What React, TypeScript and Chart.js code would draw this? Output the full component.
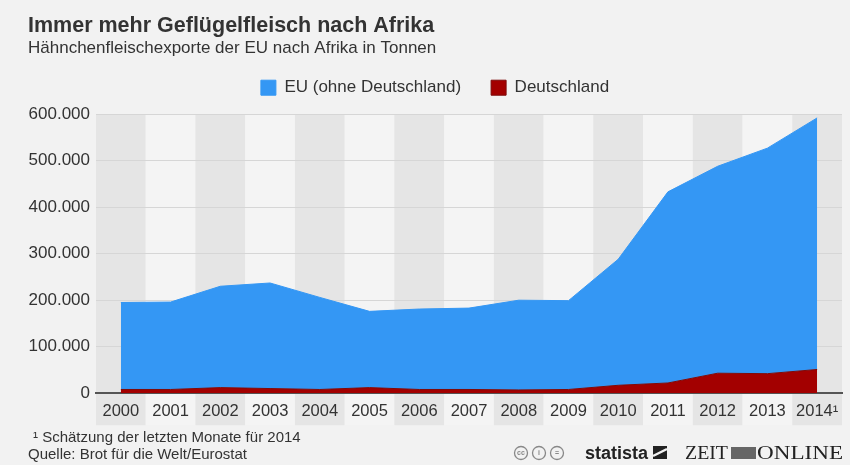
import React, { useEffect, useRef } from 'react';
import { Chart, registerables } from 'chart.js';

Chart.register(...registerables);

const years = ['2000', '2001', '2002', '2003', '2004', '2005', '2006', '2007', '2008', '2009', '2010', '2011', '2012', '2013', '2014¹'];
// EU exports excluding Germany (tonnes), stacked above Germany
const euValues = [187000, 188000, 218000, 227000, 198000, 164000, 173000, 175000, 193000, 191000, 271000, 411000, 445000, 485000, 541000];
// Germany exports (tonnes)
const deValues = [8000, 8000, 12000, 10000, 8000, 12000, 8000, 8000, 7000, 8000, 17000, 22000, 43000, 42000, 51000];

const titleText = 'Immer mehr Geflügelfleisch nach Afrika';
const subtitleText = 'Hähnchenfleischexporte der EU nach Afrika in Tonnen';
const footnoteText = '¹ Schätzung der letzten Monate für 2014';
const sourceText = 'Quelle: Brot für die Welt/Eurostat';

const FONT = '"Liberation Sans", Arial, sans-serif';
const SERIF = '"Liberation Serif", "DejaVu Serif", serif';
const TEXT = '#333333';

const fmt = (v: number) => String(v).replace(/\B(?=(\d{3})+(?!\d))/g, '.');

function fitText(ctx: CanvasRenderingContext2D, text: string, x: number, y: number, width: number) {
  const w = ctx.measureText(text).width;
  ctx.save();
  ctx.translate(x, y);
  ctx.scale(width / w, 1);
  ctx.fillText(text, 0, 0);
  ctx.restore();
}

const legendSpacer = {
  id: 'legendSpacer',
  beforeInit(chart: any) {
    const legend = chart.legend;
    if (!legend) return;
    const origFit = legend.fit;
    legend.fit = function fit() {
      origFit.call(this);
      this.height += 8;
    };
  },
};

const bandPlugin = {
  id: 'bands',
  beforeDraw(chart: any) {
    const { ctx, chartArea } = chart;
    ctx.save();
    ctx.fillStyle = '#f2f2f2';
    ctx.fillRect(0, 0, chart.width, chart.height);
    const n = years.length;
    const step = (chartArea.right - chartArea.left) / n;
    for (let i = 0; i < n; i++) {
      ctx.fillStyle = i % 2 === 0 ? '#e5e5e5' : '#f4f4f4';
      ctx.fillRect(chartArea.left + i * step, chartArea.top, step, chartArea.bottom - chartArea.top + 32);
    }
    ctx.restore();
  },
  afterDraw(chart: any) {
    const { ctx } = chart;
    ctx.save();
    ctx.fillStyle = TEXT;
    ctx.textBaseline = 'middle';
    ctx.textAlign = 'left';
    ctx.font = `15px ${FONT}`;
    ctx.fillText(footnoteText, 33, 438);
    ctx.fillText(sourceText, 28, 455);

    // licence icons
    ctx.strokeStyle = '#888';
    ctx.lineWidth = 1.3;
    const cx = [521, 539, 557];
    const marks = ['cc', 'i', '='];
    cx.forEach((x, i) => {
      ctx.beginPath();
      ctx.arc(x, 453, 6.5, 0, Math.PI * 2);
      ctx.stroke();
      ctx.fillStyle = '#888';
      ctx.font = `bold 7px ${FONT}`;
      ctx.textAlign = 'center';
      ctx.fillText(marks[i], x, 453.5);
    });

    // statista
    ctx.fillStyle = '#222';
    ctx.textAlign = 'left';
    ctx.textBaseline = 'alphabetic';
    ctx.font = `bold 18px ${FONT}`;
    fitText(ctx, 'statista', 585, 459, 63);
    ctx.fillRect(653, 446, 14, 13);
    ctx.strokeStyle = '#f2f2f2';
    ctx.lineWidth = 2.5;
    ctx.beginPath();
    ctx.moveTo(653, 456);
    ctx.lineTo(667, 449);
    ctx.stroke();

    // ZEIT ONLINE
    ctx.fillStyle = '#222';
    ctx.font = `18px ${SERIF}`;
    fitText(ctx, 'ZEIT', 685, 459, 43);
    ctx.fillStyle = '#666';
    ctx.fillRect(731, 447, 25, 12);
    ctx.fillStyle = '#222';
    fitText(ctx, 'ONLINE', 757, 459, 86);
    ctx.restore();
  },
};

export default function App() {
  const ref = useRef<HTMLCanvasElement | null>(null);

  useEffect(() => {
    if (!ref.current) return;
    const chart = new Chart(ref.current, {
      type: 'line',
      data: {
        labels: years,
        datasets: [
          {
            label: 'Deutschland',
            data: deValues,
            backgroundColor: '#a30000',
            borderColor: '#7d0a0a',
            borderWidth: 1,
            fill: 'origin',
            pointRadius: 0,
            tension: 0,
          },
          {
            label: 'EU (ohne Deutschland)',
            data: euValues,
            backgroundColor: '#3497f4',
            borderColor: '#3497f4',
            borderWidth: 1,
            fill: '-1',
            pointRadius: 0,
            tension: 0,
          },
        ],
      },
      options: {
        animation: false,
        responsive: false,
        devicePixelRatio: 1,
        layout: { padding: { left: 28, right: 8, top: 10, bottom: 44 } },
        plugins: {
          title: {
            display: true,
            text: titleText,
            align: 'start',
            color: TEXT,
            font: { family: FONT, size: 21.5, weight: 'bold' },
            padding: { top: 3, bottom: 0 },
          },
          subtitle: {
            display: true,
            text: subtitleText,
            align: 'start',
            color: TEXT,
            font: { family: FONT, size: 17 },
            padding: { top: -1, bottom: -9 },
          },
          legend: {
            display: true,
            position: 'top',
            align: 'center',
            reverse: true,
            labels: {
              boxWidth: 15,
              boxHeight: 15,
              color: TEXT,
              font: { family: FONT, size: 17 },
              padding: 30,
            },
          },
          tooltip: { enabled: false },
        },
        scales: {
          x: {
            offset: true,
            grid: { display: false },
            border: { display: true, color: '#555', width: 2 },
            ticks: { color: TEXT, font: { family: FONT, size: 16.5 }, padding: 0, maxRotation: 0, autoSkip: false },
          },
          y: {
            stacked: true,
            min: 0,
            max: 600000,
            border: { display: false },
            grid: { color: '#d6d6d6', lineWidth: 1, drawTicks: false },
            afterFit: (scale: any) => {
              scale.width = 68;
            },
            ticks: {
              stepSize: 100000,
              color: TEXT,
              font: { family: FONT, size: 17 },
              padding: 6,
              callback: (v: any) => fmt(Number(v)),
            },
          },
        },
      },
      plugins: [legendSpacer, bandPlugin],
    });
    return () => chart.destroy();
  }, []);

  return (
    <div style={{ position: 'fixed', left: 0, top: 0, width: 850, height: 465, background: '#f2f2f2' }}>
      <canvas ref={ref} width={850} height={465} style={{ width: 850, height: 465, display: 'block' }} />
    </div>
  );
}
